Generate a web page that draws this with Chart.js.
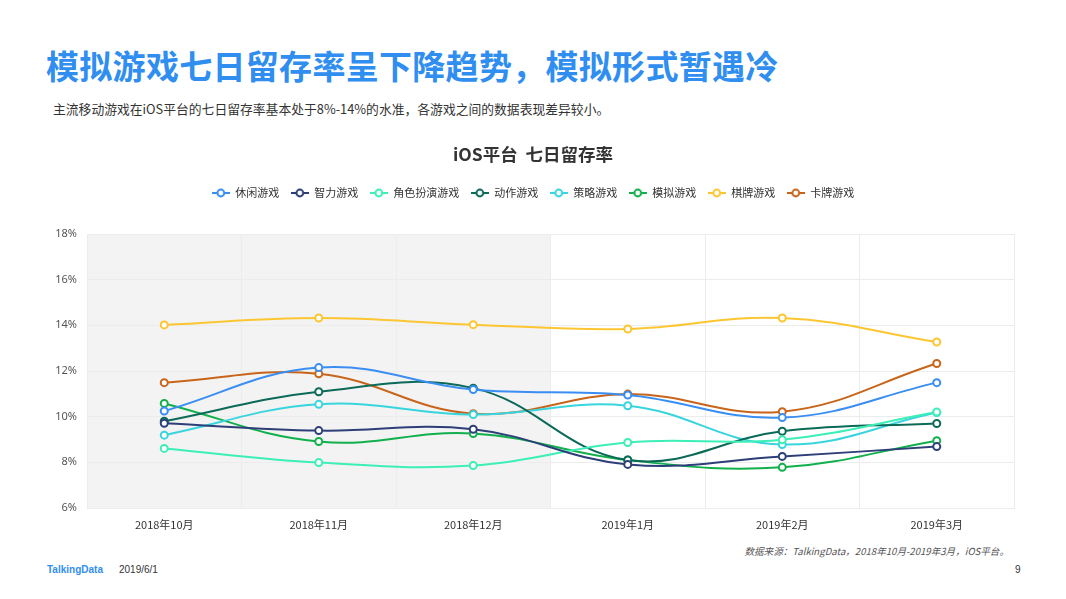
<!DOCTYPE html>
<html>
<head>
<meta charset="utf-8">
<script src="https://cdn.jsdelivr.net/npm/chart.js@4.4.0/dist/chart.umd.min.js"></script>
<style>
  body { margin: 0; width: 1066px; height: 599px; background: #fff; overflow: hidden; position: relative; font-family: 'Noto Sans CJK SC', 'Noto Sans', sans-serif; }
  .c-title { position: absolute; left: 46px; top: 41px; font-size: 33px; font-weight: bold; color: #2f8ef0; letter-spacing: 0.3px; white-space: nowrap; }
  .c-sub { position: absolute; left: 53px; top: 99px; font-size: 12.8px; color: #333; white-space: nowrap; }
  .c-chart { position: absolute; left: 0; top: 130px; width: 1066px; height: 410px; }
  .c-source { position: absolute; right: 57px; top: 544px; font-size: 9.6px; color: #555; font-style: italic; white-space: nowrap; }
  .c-logo { position: absolute; left: 47px; top: 564px; font-size: 10px; color: #2f8ef0; font-weight: bold; font-family: 'Liberation Sans', sans-serif; }
  .c-date { position: absolute; left: 119px; top: 564px; font-size: 10px; color: #333; font-family: 'Liberation Sans', sans-serif; }
  .c-page { position: absolute; left: 1015px; top: 564px; font-size: 10px; color: #333; font-family: 'Liberation Sans', sans-serif; }
</style>
</head>
<body>
<div class="c-title">模拟游戏七日留存率呈下降趋势，模拟形式暂遇冷</div>
<div class="c-sub">主流移动游戏在iOS平台的七日留存率基本处于8%-14%的水准，各游戏之间的数据表现差异较小。</div>
<div class="c-chart"><canvas id="myChart"></canvas></div>
<div class="c-source">数据来源：TalkingData，2018年10月-2019年3月，iOS平台。</div>
<div class="c-logo">TalkingData</div>
<div class="c-date">2019/6/1</div>
<div class="c-page">9</div>
<script>
'use strict';

const maanden = ['2018年10月', '2018年11月', '2018年12月', '2019年1月', '2019年2月', '2019年3月'];
const yTicks = [6, 8, 10, 12, 14, 16, 18];

const xiuxian = [10.25, 12.15, 11.19, 10.95, 9.96, 11.49];
const zhili = [9.71, 9.39, 9.45, 7.91, 8.26, 8.69];
const jiaose = [8.61, 7.99, 7.86, 8.87, 8.99, 10.2];
const dongzuo = [9.8, 11.09, 11.25, 8.1, 9.36, 9.7];
const celue = [9.19, 10.54, 10.09, 10.48, 8.78, 10.18];
const moni = [10.58, 8.91, 9.26, 8.1, 7.78, 8.95];
const qipai = [14.02, 14.32, 14.03, 13.84, 14.32, 13.27];
const kapai = [11.49, 11.88, 10.13, 10.99, 10.22, 12.33];

const reeksen = [
  { label: '休闲游戏', data: xiuxian, kleur: '#3a8ef2' },
  { label: '智力游戏', data: zhili, kleur: '#2d3e78' },
  { label: '角色扮演游戏', data: jiaose, kleur: '#3cefb6' },
  { label: '动作游戏', data: dongzuo, kleur: '#0b6a58' },
  { label: '策略游戏', data: celue, kleur: '#38d5de' },
  { label: '模拟游戏', data: moni, kleur: '#12b04c' },
  { label: '棋牌游戏', data: qipai, kleur: '#fcc632' },
  { label: '卡牌游戏', data: kapai, kleur: '#c8651b' }
];

// legend marker: line with an open circle
const maakMarker = function(kleur) {
  const c = document.createElement('canvas');
  c.width = 18;
  c.height = 10;
  const g = c.getContext('2d');
  g.strokeStyle = kleur;
  g.lineWidth = 2;
  g.beginPath();
  g.moveTo(0, 5);
  g.lineTo(18, 5);
  g.stroke();
  g.beginPath();
  g.arc(9, 5, 3.4, 0, Math.PI * 2);
  g.fillStyle = '#fff';
  g.fill();
  g.stroke();
  return c;
};

const markers = reeksen.map(r => maakMarker(r.kleur));

const grijsVlak = {
  id: 'grijsVlak',
  beforeDraw(chart) {
    const x = chart.scales.x;
    const area = chart.chartArea;
    const grens = (x.getPixelForValue(2) + x.getPixelForValue(3)) / 2;
    const ctx = chart.ctx;
    ctx.save();
    ctx.fillStyle = '#f3f3f3';
    ctx.fillRect(area.left, area.top, grens - area.left, area.bottom - area.top);
    ctx.restore();
  }
};

const legendRuimte = {
  id: 'legendRuimte',
  beforeInit(chart) {
    const fit = chart.legend.fit;
    chart.legend.fit = function() {
      fit.bind(chart.legend)();
      this.height += 25.5;
    };
  }
};

const displayChart = function() {
  const ctx = document.getElementById('myChart');
  new Chart(ctx, {
    type: 'line',
    data: {
      labels: maanden,
      datasets: reeksen.map(r => ({
        label: r.label,
        data: r.data,
        borderColor: r.kleur,
        backgroundColor: r.kleur,
        borderWidth: 2,
        pointRadius: 3.5,
        pointBorderWidth: 2,
        pointBackgroundColor: '#fff',
        pointBorderColor: r.kleur,
        tension: 0.4,
        fill: false
      }))
    },
    plugins: [grijsVlak, legendRuimte],
    options: {
      responsive: true,
      maintainAspectRatio: false,
      animation: false,
      devicePixelRatio: 1,
      layout: { padding: { left: 52, right: 52, top: 0, bottom: 0 } },
      plugins: {
        title: {
          display: true,
          text: 'iOS平台  七日留存率',
          color: '#333',
          font: { size: 17.5, weight: 'bold', family: "'Noto Sans CJK SC', sans-serif" },
          padding: { top: 14, bottom: 11 }
        },
        legend: {
          labels: {
            usePointStyle: true,
            pointStyleWidth: 18,
            boxHeight: 10,
            padding: 11.5,
            color: '#333',
            font: { size: 11, family: "'Noto Sans CJK SC', sans-serif" },
            generateLabels(chart) {
              const items = Chart.defaults.plugins.legend.labels.generateLabels(chart);
              items.forEach((it, i) => { it.pointStyle = markers[i]; });
              return items;
            }
          }
        },
        tooltip: { enabled: false }
      },
      scales: {
        x: {
          offset: true,
          grid: { offset: true, color: '#ececec', drawTicks: false },
          border: { color: '#ececec' },
          ticks: { color: '#333', padding: 10, font: { size: 11, family: "'Noto Sans CJK SC', sans-serif" } },
          afterFit(scale) { scale.height = 32; }
        },
        y: {
          min: yTicks[0],
          max: yTicks[yTicks.length - 1],
          afterBuildTicks(scale) { scale.ticks = yTicks.map(v => ({ value: v })); },
          grid: { color: '#ececec', drawTicks: false },
          border: { color: '#ececec' },
          ticks: {
            color: '#555',
            padding: 10,
            font: { size: 11, family: "'Noto Sans', sans-serif" },
            callback: v => v + '%'
          },
          afterFit(scale) { scale.width = 35; }
        }
      }
    }
  });
};

document.addEventListener('DOMContentLoaded', function() {
  displayChart();
});
</script>
</body>
</html>
